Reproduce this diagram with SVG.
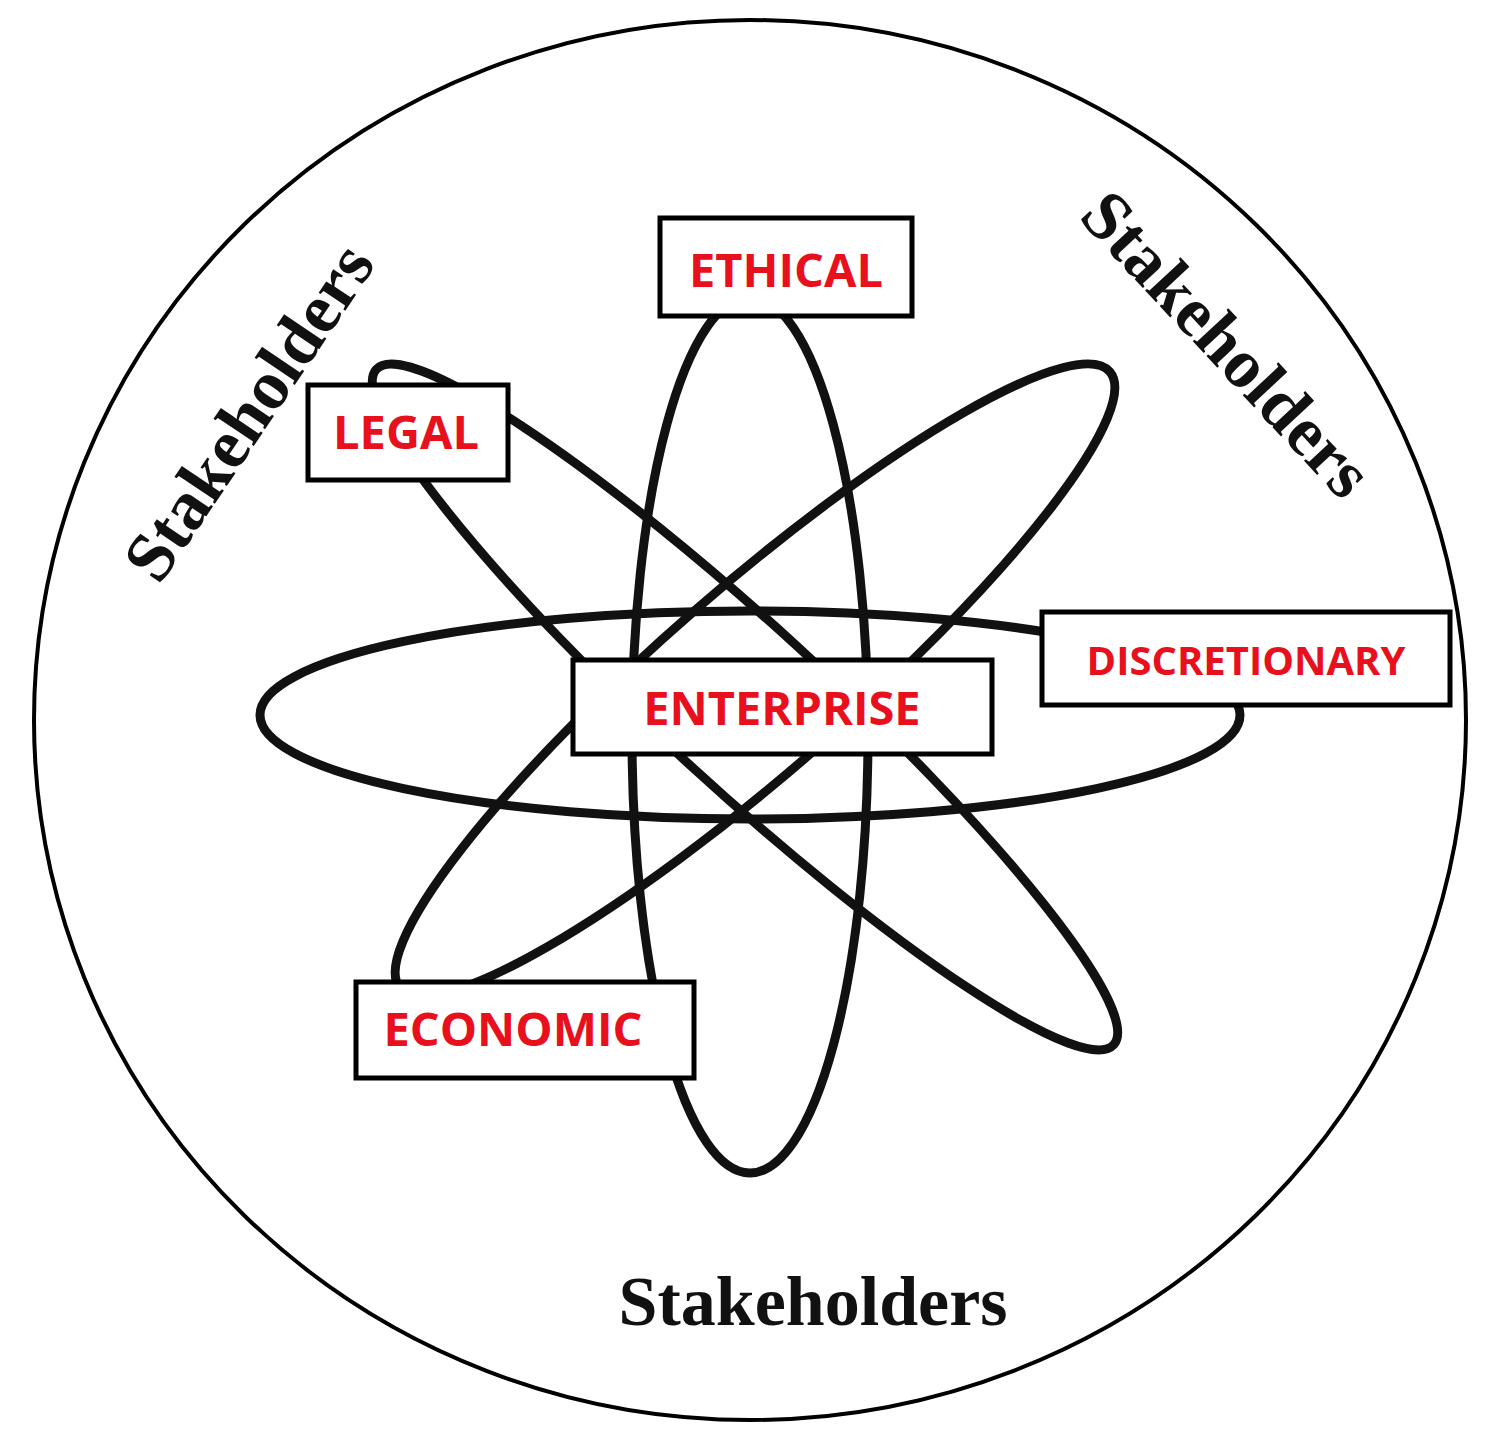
<svg xmlns="http://www.w3.org/2000/svg" width="1500" height="1443" viewBox="0 0 1500 1443">
<style>
.orb{fill:none;stroke:#111;stroke-width:9}
.box{fill:#fff;stroke:#000;stroke-width:5}
.lbl{font-family:"Open Sans","Liberation Sans",sans-serif;font-weight:bold;fill:#e8101c;text-anchor:middle}
.stk{font-family:"Liberation Serif",serif;font-weight:bold;font-size:70px;fill:#111;text-anchor:middle}
</style>
<rect width="1500" height="1443" fill="#fff"/>
<ellipse cx="750" cy="720" rx="716" ry="700" fill="none" stroke="#000" stroke-width="4"/>
<g id="orbits">
<ellipse class="orb" cx="750" cy="715" rx="490" ry="104"/>
<ellipse class="orb" cx="750" cy="735" rx="118" ry="438"/>
<ellipse class="orb" cx="745" cy="707" rx="500" ry="80" transform="rotate(42.5 745 707)"/>
<ellipse class="orb" cx="755" cy="680" rx="470" ry="92" transform="rotate(-41 755 680)"/>
</g>
<g id="ethical"><rect class="box" x="660" y="218" width="252" height="98"/><text class="lbl" x="786" y="287" font-size="47">ETHICAL</text></g>
<g id="legal"><rect class="box" x="308" y="385" width="200" height="95"/><text class="lbl" x="406" y="449" font-size="47">LEGAL</text></g>
<g id="discretionary"><rect class="box" x="1042" y="612" width="408" height="93"/><text class="lbl" x="1246" y="675" font-size="40">DISCRETIONARY</text></g>
<g id="enterprise"><rect class="box" x="573" y="660" width="419" height="94"/><text class="lbl" x="782" y="725" font-size="47">ENTERPRISE</text></g>
<g id="economic"><rect class="box" x="356" y="982" width="338" height="96"/><text class="lbl" x="513" y="1046" font-size="47">ECONOMIC</text></g>
<text class="stk" transform="translate(268,425) rotate(-56)">Stakeholders</text>
<text class="stk" transform="translate(1210,360) rotate(47)">Stakeholders</text>
<text class="stk" x="813" y="1325">Stakeholders</text>
</svg>
